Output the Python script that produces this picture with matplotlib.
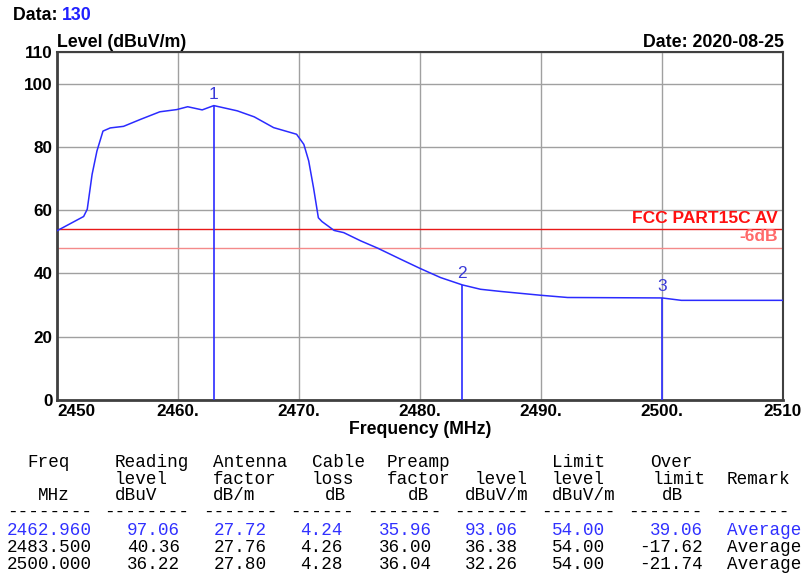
import matplotlib
matplotlib.use("Agg")
import matplotlib.pyplot as plt

# ---------------- data ----------------
freq = [2450.0, 2452.2, 2452.5, 2452.9, 2453.3, 2453.8, 2454.4, 2455.5, 2456.9,
        2458.5, 2459.9, 2460.8, 2462.0, 2462.96, 2464.9, 2466.3, 2467.9, 2469.8,
        2470.4, 2470.8, 2471.2, 2471.6, 2471.9, 2472.9, 2473.7, 2475.1, 2476.5,
        2478.4, 2480.0, 2481.7, 2483.5, 2485.0, 2486.7, 2490.0, 2492.2, 2500.0,
        2501.6, 2510.0]
level = [53.5, 58.0, 60.3, 71.3, 78.7, 85.0, 86.0, 86.5, 88.7,
         91.1, 91.8, 92.7, 91.7, 93.06, 91.4, 89.5, 86.1, 84.0,
         80.8, 75.6, 67.1, 57.6, 56.4, 53.6, 52.9, 50.3, 48.0,
         44.5, 41.6, 38.7, 36.38, 35.0, 34.3, 33.1, 32.4, 32.26,
         31.5, 31.5]

limit_value = 54.0
limit_minus6 = 48.0
marker_ids = ["1", "2", "3"]
marker_freq = [2462.96, 2483.5, 2500.0]
marker_level = [93.06, 36.38, 32.26]

x_ticks = [2450, 2460, 2470, 2480, 2490, 2500, 2510]
x_tick_labels = ["2450", "2460.", "2470.", "2480.", "2490.", "2500.", "2510"]
y_ticks = [0, 20, 40, 60, 80, 100, 110]

# table
hdr1 = ["Freq", "Reading", "Antenna", "Cable", "Preamp", "", "Limit", "Over", ""]
hdr2 = ["", "level", "factor", "loss", "factor", "level", "level", "limit", "Remark"]
hdr3 = ["MHz", "dBuV", "dB/m", "dB", "dB", "dBuV/m", "dBuV/m", "dB", ""]
col_freq = ["2462.960", "2483.500", "2500.000"]
col_reading = ["97.06", "40.36", "36.22"]
col_antenna = ["27.72", "27.76", "27.80"]
col_cable = ["4.24", "4.26", "4.28"]
col_preamp = ["35.96", "36.00", "36.04"]
col_level = ["93.06", "36.38", "32.26"]
col_limit = ["54.00", "54.00", "54.00"]
col_over = ["39.06", "-17.62", "-21.74"]
col_remark = ["Average", "Average", "Average"]

# ---------------- figure ----------------
W, H = 805, 575
fig = plt.figure(figsize=(W / 100, H / 100), dpi=100)
L, R, T, B = 57, 783, 52, 400
ax = fig.add_axes([L / W, 1 - B / H, (R - L) / W, (B - T) / H])

SANS = "Liberation Sans"
BLUE = "#2b2bff"
ax.plot(freq, level, color=BLUE, lw=1.1, zorder=3)
for mid, mf, ml in zip(marker_ids, marker_freq, marker_level):
    ax.vlines(mf, 0, ml, color=BLUE, lw=1.2, zorder=3)
    ax.text(mf, ml + 1.2, mid, color="#3a3ad8", fontsize=12.5,
            ha="center", va="bottom", family=SANS, zorder=4)

ax.axhline(limit_value, color="#e81818", lw=1.0, zorder=2)
ax.axhline(limit_minus6, color="#f48a8a", lw=1.0, zorder=2)
ax.text(2509.6, limit_value + 1.1, "FCC PART15C AV", color="#ff1010",
        fontsize=12.5, fontweight="bold", ha="right", va="bottom", family=SANS)
ax.text(2509.6, limit_minus6 + 1.2, "-6dB", color="#ff6a6a",
        fontsize=12.5, fontweight="bold", ha="right", va="bottom", family=SANS)

ax.set_xlim(2450, 2510)
ax.set_ylim(0, 110)
ax.set_xticks(x_ticks)
ax.set_xticklabels(x_tick_labels)
ax.set_yticks(y_ticks)
ax.set_yticklabels([str(v) for v in y_ticks])
for lab in ax.get_xticklabels() + ax.get_yticklabels():
    lab.set_fontfamily(SANS)
    lab.set_fontweight("bold")
    lab.set_fontsize(12.3)
ax.get_xticklabels()[0].set_horizontalalignment("left")
ax.tick_params(axis="x", length=0, pad=3)
ax.tick_params(axis="y", length=0, pad=3)
ax.grid(True, color="#a0a0a0", lw=1.0, zorder=1)
for s in ["left", "bottom"]:
    ax.spines[s].set_color("#404040")
    ax.spines[s].set_linewidth(2.0)
for s in ["top", "right"]:
    ax.spines[s].set_color("#404040")
    ax.spines[s].set_linewidth(1.5)

ax.set_xlabel("Frequency (MHz)", fontsize=12.7, fontweight="bold",
              family=SANS, labelpad=1)

def ftext(x, y, s, **kw):
    fig.text(x / W, 1 - y / H, s, **kw)

ftext(57, 47, "Level (dBuV/m)", fontsize=12.8, fontweight="bold",
      family=SANS, ha="left", va="baseline")
ftext(784, 47, "Date: 2020-08-25", fontsize=12.8, fontweight="bold",
      family=SANS, ha="right", va="baseline")
ftext(13, 20, "Data: ", fontsize=12.8, fontweight="bold",
      family=SANS, ha="left", va="baseline")
ftext(62, 20, "130", fontsize=12.8, fontweight="bold", color="#2020ff",
      family=SANS, ha="left", va="baseline")

# ---------------- table ----------------
MONO = dict(family="Liberation Mono", fontsize=12.7)
hdr_left = [27, 115, 213, 312, 387, 0, 552, 650, 0]
hdr2_left = [0, 115, 213, 312, 387, 475, 552, 653, 727]
hdr3_left = [38, 115, 213, 325, 408, 465, 552, 662, 0]
for i in range(9):
    if hdr1[i]:
        ftext(hdr_left[i], 467, hdr1[i], ha="left", va="baseline", **MONO)
    if hdr2[i]:
        ftext(hdr2_left[i], 483.5, hdr2[i], ha="left", va="baseline", **MONO)
    if hdr3[i]:
        ftext(hdr3_left[i], 500.5, hdr3[i], ha="left", va="baseline", **MONO)

dash_left = [7, 104, 203, 290, 367, 454, 541, 628, 715]
dash_len = [8, 8, 7, 6, 7, 7, 7, 7, 7]
for xl, n in zip(dash_left, dash_len):
    ftext(xl, 517, "-" * n, ha="left", va="baseline", **MONO)

cols = [col_freq, col_reading, col_antenna, col_cable, col_preamp,
        col_level, col_limit, col_over]
right_edges = [92, 180, 267, 343, 432, 518, 605, 703]
row_base = [535, 552, 569]
for r in range(3):
    color = "#3030ff" if r == 0 else "black"
    for c, xr in zip(cols, right_edges):
        ftext(xr, row_base[r], c[r], ha="right", va="baseline", color=color, **MONO)
    ftext(727, row_base[r], col_remark[r], ha="left", va="baseline", color=color, **MONO)

fig.savefig("out.png", dpi=100)
